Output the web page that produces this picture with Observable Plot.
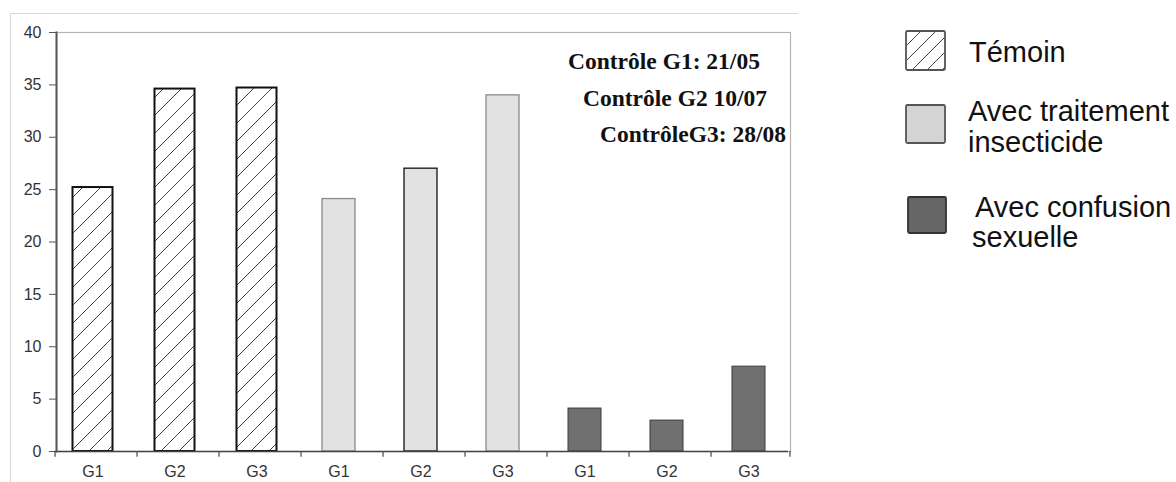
<!DOCTYPE html>
<html><head><meta charset="utf-8">
<script src="https://cdn.jsdelivr.net/npm/d3@7"></script>
<script src="https://cdn.jsdelivr.net/npm/@observablehq/plot@0.6"></script>
<style>
body{margin:0;background:#fff;width:1176px;height:482px;overflow:hidden;position:relative;font-family:"Liberation Sans",Arial,sans-serif}
#outer{position:absolute;left:10px;top:13px;width:787px;height:480px;border-top:1.5px solid #d6d6d6;border-left:1.5px solid #d6d6d6}
#chart{position:absolute;left:0;top:0}
#legend{position:absolute;left:0;top:0}
</style></head><body>
<div id="outer"></div><div id="chart"></div><svg id="legend" width="1176" height="482"></svg>
<script>
// ---- data ----
const groups = ["Témoin", "Avec traitement insecticide", "Avec confusion sexuelle"];
const groupKeys = ["T", "I", "C"];
const controls = ["G1", "G2", "G3"];
const temoin = [25.2, 34.6, 34.7];
const insecticide = [24.1, 27.0, 34.0];
const confusion = [4.1, 2.95, 8.1];
const yTicks = [0, 5, 10, 15, 20, 25, 30, 35, 40];
const notes = ["Contrôle G1: 21/05", "Contrôle G2 10/07", "ContrôleG3: 28/08"];
const noteY = [36.5, 33.0, 29.5];
const legendLines = [["Témoin"], ["Avec traitement", "insecticide"], ["Avec confusion", "sexuelle"]];

const seriesVals = [temoin, insecticide, confusion];
const rows = [];
groupKeys.forEach((g, gi) => controls.forEach((c, ci) => rows.push({key: g + "-" + c, group: g, ctrl: c, value: seriesVals[gi][ci]})));
const keys = rows.map(d => d.key);

const W = 800, H = 482, mL = 56, mR = 10, mT = 32, mB = 31;
const step = 81.9;
const noteDx = [-17, -2, 15];

const chart = Plot.plot({
  width: W, height: H,
  marginLeft: mL, marginRight: mR, marginTop: mT, marginBottom: mB,
  style: {fontFamily: "Liberation Sans, Arial, sans-serif", fontSize: "16px", background: "transparent", overflow: "visible"},
  x: {type: "band", domain: keys, paddingInner: 0.6, paddingOuter: 0.275, align: 0.435},
  y: {domain: [0, 40]},
  marks: [
    Plot.frame({stroke: "#b5b5b5", strokeWidth: 1.2}),
    Plot.barY(rows.filter(d => d.group === "T"), {x: "key", y: "value", fill: "url(#hatch)", stroke: "#111", strokeWidth: 2, insetLeft: -3.5, insetRight: -3.5}),
    Plot.barY(rows.filter(d => d.group === "I"), {x: "key", y: "value", fill: "#e2e2e2", stroke: d => d.ctrl === "G2" ? "#111" : "#8a8a8a", strokeWidth: 1.3}),
    Plot.barY(rows.filter(d => d.group === "C"), {x: "key", y: "value", fill: "#707070", stroke: "#3a3a3a", strokeWidth: 1}),
    Plot.ruleY([0], {stroke: "#444", strokeWidth: 1.5, dx: -2}),
    Plot.frame({anchor: "left", stroke: "#555", strokeWidth: 2}),
    Plot.ruleX(keys, {x: d => d, y1: 0, y2: -0.55, dx: -step / 2 + 3, stroke: "#555", strokeWidth: 1.3}),
    Plot.ruleX([keys[keys.length - 1]], {x: d => d, y1: 0, y2: -0.55, dx: step / 2, stroke: "#555", strokeWidth: 1.3}),
    Plot.axisY({ticks: yTicks, tickSize: 7, tickPadding: 8, fontSize: 16, color: "#333", stroke: "#555", label: null}),
    Plot.axisX({tickSize: 0, tickPadding: 14, fontSize: 16, color: "#333", tickFormat: k => k.split("-")[1], label: null}),
    ...notes.map((t, i) => Plot.text([t], {x: () => "C-G1", y: () => noteY[i], text: d => d, dx: noteDx[i], textAnchor: "start", lineAnchor: "bottom", fontFamily: "Liberation Serif, Times New Roman, serif", fontWeight: "bold", fontSize: 23.5, fill: "#111"}))
  ]
});
document.getElementById("chart").appendChild(chart);

// hatch pattern
const svg = d3.select(chart);
const defs = svg.insert("defs", ":first-child");
const pat = defs.append("pattern").attr("id", "hatch").attr("patternUnits", "userSpaceOnUse").attr("width", 18).attr("height", 18);
pat.append("rect").attr("width", 18).attr("height", 18).attr("fill", "#fff");
pat.append("path").attr("d", "M0,18L18,0M-4.5,4.5L4.5,-4.5M13.5,22.5L22.5,13.5").attr("stroke", "#444").attr("stroke-width", 1);

// legend
const lg = d3.select("#legend");
const ldefs = lg.append("defs");
const lp = ldefs.append("pattern").attr("id", "lhatch").attr("patternUnits", "userSpaceOnUse").attr("width", 15).attr("height", 15).attr("x", 906).attr("y", 31);
lp.append("rect").attr("width", 15).attr("height", 15).attr("fill", "#fff");
lp.append("path").attr("d", "M0,15L15,0M-4,4L4,-4M11,19L19,11").attr("stroke", "#444").attr("stroke-width", 1);
const sw = [
  {x: 906, y: 31, w: 39, h: 39, fill: "url(#lhatch)", stroke: "#555"},
  {x: 906, y: 105, w: 39, h: 38, fill: "#d4d4d4", stroke: "#555"},
  {x: 908, y: 197, w: 38, h: 36, fill: "#666", stroke: "#333"}
];
const tx = [[969], [968, 968], [975, 972]];
const ty = [[62], [121, 152], [217, 247]];
sw.forEach((s, i) => {
  lg.append("rect").attr("x", s.x).attr("y", s.y).attr("width", s.w).attr("height", s.h).attr("rx", 1.5)
    .attr("fill", s.fill).attr("stroke", s.stroke).attr("stroke-width", 1.8);
  legendLines[i].forEach((line, j) => {
    lg.append("text").attr("x", tx[i][j]).attr("y", ty[i][j]).text(line)
      .attr("font-family", "Liberation Sans, Arial, sans-serif").attr("font-size", 29).attr("fill", "#111");
  });
});
</script>
</body></html>
